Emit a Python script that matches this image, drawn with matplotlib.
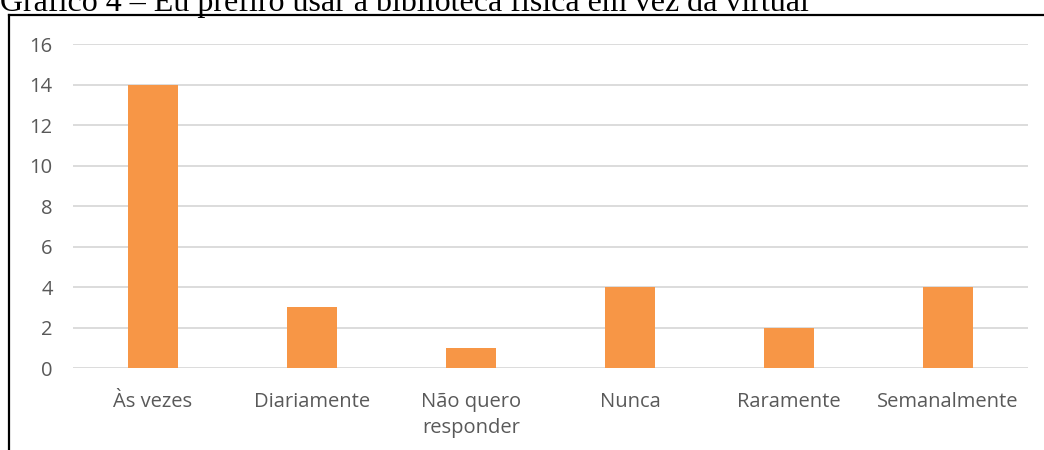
import matplotlib.pyplot as plt
from matplotlib.lines import Line2D

# data
categories = ["Às vezes", "Diariamente", "Não quero\nresponder", "Nunca", "Raramente", "Semanalmente"]
counts = [14, 3, 1, 4, 2, 4]
y_ticks = [0, 2, 4, 6, 8, 10, 12, 14, 16]
title = "Gráfico 4 – Eu prefiro usar a biblioteca física em vez da virtual"

bar_color = "#F79646"
grid_color = "#D9D9D9"
text_color = "#595959"

fig = plt.figure(figsize=(10.44, 4.5), dpi=100)
ax = fig.add_axes([0.0704, 0.182, 0.9138, 0.720])

x = range(len(categories))
ax.bar(x, counts, width=0.31, color=bar_color, zorder=3)

ax.set_ylim(0, 16)
ax.set_xlim(-0.5, len(categories) - 0.5)
ax.set_yticks(y_ticks)
ax.set_xticks(list(x))
ax.set_xticklabels(categories, fontsize=14.5, color=text_color, family="Open Sans",
                   linespacing=1.45)
ax.set_yticklabels([str(t) for t in y_ticks], fontsize=14.5, color=text_color, family="Open Sans")
ax.tick_params(axis="both", length=0)
ax.tick_params(axis="x", pad=17)
ax.tick_params(axis="y", pad=15)
ax.grid(axis="y", color=grid_color, linewidth=1.3, zorder=0)
for s in ax.spines.values():
    s.set_visible(False)

# outer frame (left and top edges visible; rest cropped)
fig.add_artist(Line2D([9 / 1044, 9 / 1044], [0, 1 - 15 / 450], transform=fig.transFigure,
                      color="black", linewidth=1.6))
fig.add_artist(Line2D([9 / 1044, 1], [1 - 15 / 450, 1 - 15 / 450], transform=fig.transFigure,
                      color="black", linewidth=1.6))

# title, cut off at the top edge
fig.text(0.0, 1 - 11 / 450, title, family="Liberation Serif", fontsize=23,
         ha="left", va="baseline", color="black")

fig.savefig("out.png", dpi=100)
